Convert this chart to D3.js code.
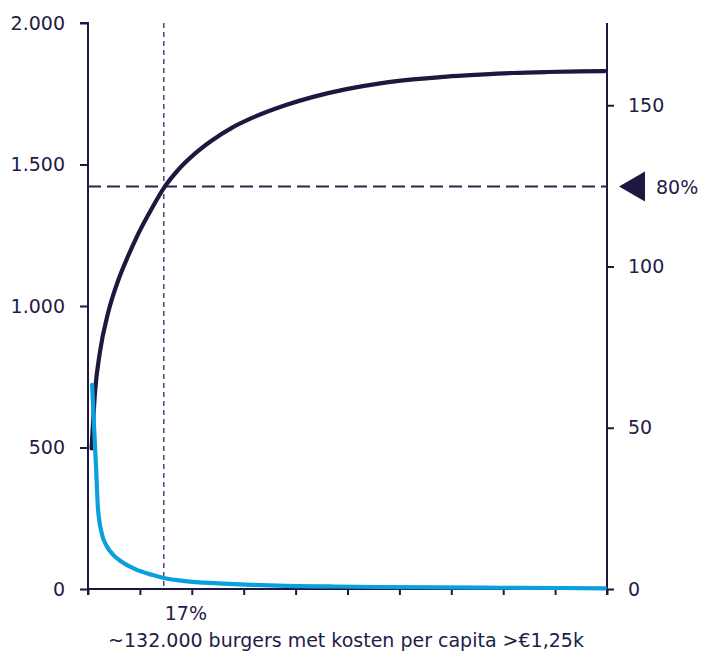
<!DOCTYPE html>
<html>
<head>
<meta charset="utf-8">
<script src="https://cdn.jsdelivr.net/npm/d3@7"></script>
<style>
  html, body { margin: 0; padding: 0; background: #ffffff; }
  svg { display: block; }
  text { font-family: "DejaVu Sans", Verdana, sans-serif; fill: #231c48; }
</style>
</head>
<body>
<svg id="chart" width="718" height="657"></svg>
<script>
// ---- data (x in % of burgers) ----
const leftTicks = [0, 500, 1000, 1500, 2000];
const leftTickLabels = ["0", "500", "1.000", "1.500", "2.000"];
const rightTicks = [0, 50, 100, 150];
const xTicks = [0, 10, 20, 30, 40, 50, 60, 70, 80, 90, 100];

// cumulative curve (right axis)
const cumX = [0.7, 1.35, 2.3, 3.9, 5.8, 7.8, 9.7, 12.3, 14.6, 17.4, 20.6, 23.8, 27.7, 31.5, 38.0, 43.4, 49.8, 56.3, 62.6, 69.1, 75.5, 81.9, 88.4, 94.8, 99.6];
const cumY = [43.6, 61.0, 73.5, 85.8, 95.6, 103.5, 110.2, 118.0, 124.3, 130.0, 135.0, 139.0, 143.0, 146.0, 150.0, 152.6, 155.0, 156.8, 158.0, 158.9, 159.5, 160.0, 160.3, 160.5, 160.6];

// cost per capita curve (left axis)
const costX = [0.8, 1.2, 1.55, 1.9, 2.6, 3.6, 4.9, 6.5, 9.1, 12.3, 14.6, 18.7, 25.1, 31.5, 38.0, 46.6, 56.3, 67.8, 79.4, 90.9, 99.6];
const costY = [721, 560, 430, 290, 200, 152, 120, 96, 70, 50, 39, 28, 20, 14.5, 11, 9, 7, 5.5, 4.5, 3.5, 2.5];

const threshold80 = 124.8;   // right-axis value of the 80% line
const splitX = 14.6;         // x of the vertical dotted line
const splitLabel = "17%";
const markerLabel = "80%";
const xTitle = "~132.000 burgers met kosten per capita >€1,25k";

// ---- layout ----
const dark = "#1e1740";
const blue = "#0aa0db";
const textCol = "#231c48";
const fs = "19px";
const svg = d3.select("#chart");
const m = {left: 88, right: 607, top: 23, bottom: 589};

const x = d3.scaleLinear().domain([0, 100]).range([m.left, m.right]);
const yL = d3.scaleLinear().domain([0, 2000]).range([m.bottom, m.top]);
const yR = d3.scaleLinear().domain([0, 175.5]).range([m.bottom, m.top]);

// left axis
const gL = svg.append("g").attr("transform", `translate(${m.left},0)`)
  .call(d3.axisLeft(yL).tickValues(leftTicks)
    .tickFormat((d, i) => leftTickLabels[i]).tickSize(8).tickPadding(15));
// right axis
const gR = svg.append("g").attr("transform", `translate(${m.right},0)`)
  .call(d3.axisRight(yR).tickValues(rightTicks).tickSize(7).tickPadding(14));
// x axis
const gX = svg.append("g").attr("transform", `translate(0,${m.bottom})`)
  .call(d3.axisBottom(x).tickValues(xTicks).tickFormat("").tickSize(6));

[gL, gR, gX].forEach(g => {
  g.select(".domain").attr("stroke", dark).attr("stroke-width", 2);
  g.selectAll(".tick line").attr("stroke", dark).attr("stroke-width", 2);
  g.selectAll(".tick text").attr("fill", textCol)
    .style("font-family", '"DejaVu Sans", Verdana, sans-serif').style("font-size", fs);
});
gL.select(".domain").attr("d", `M-8,${m.top}H0V${m.bottom + 6}`);
gR.select(".domain").attr("d", `M0,${m.top}V${m.bottom + 6}`);
gX.select(".domain").attr("d", `M${m.left},0H${m.right}`);

// reference lines
svg.append("line")
  .attr("x1", x(0)).attr("x2", x(100))
  .attr("y1", yR(threshold80)).attr("y2", yR(threshold80))
  .attr("stroke", "#2a2450").attr("stroke-width", 2).attr("stroke-dasharray", "13,6");
svg.append("line")
  .attr("x1", x(splitX)).attr("x2", x(splitX))
  .attr("y1", m.top).attr("y2", m.bottom)
  .attr("stroke", "#55507a").attr("stroke-width", 1.6).attr("stroke-dasharray", "5,4");

// curves
const cumData = cumX.map((v, i) => [v, cumY[i]]);
const costData = costX.map((v, i) => [v, costY[i]]);

svg.append("path").datum(cumData)
  .attr("fill", "none").attr("stroke", dark).attr("stroke-width", 4.2)
  .attr("stroke-linecap", "round")
  .attr("d", d3.line().x(d => x(d[0])).y(d => yR(d[1])).curve(d3.curveMonotoneX));
svg.append("path").datum(costData)
  .attr("fill", "none").attr("stroke", blue).attr("stroke-width", 4.2)
  .attr("stroke-linecap", "round").attr("stroke-linejoin", "round")
  .attr("d", d3.line().x(d => x(d[0])).y(d => yL(d[1])).curve(d3.curveMonotoneX));

// 80% marker
const ty = yR(threshold80);
svg.append("path")
  .attr("d", `M${m.right + 12},${ty} L${m.right + 38},${ty - 15} L${m.right + 38},${ty + 15} Z`)
  .attr("fill", dark);
svg.append("text").attr("x", m.right + 49).attr("y", ty).attr("dy", "0.38em")
  .style("font-size", fs).text(markerLabel);

// x labels
svg.append("text").attr("x", x(splitX) + 1).attr("y", 620)
  .style("font-size", fs).text(splitLabel);
svg.append("text").attr("x", (112 + 580) / 2).attr("y", 647)
  .attr("text-anchor", "middle").style("font-size", fs).text(xTitle);
</script>
</body>
</html>
